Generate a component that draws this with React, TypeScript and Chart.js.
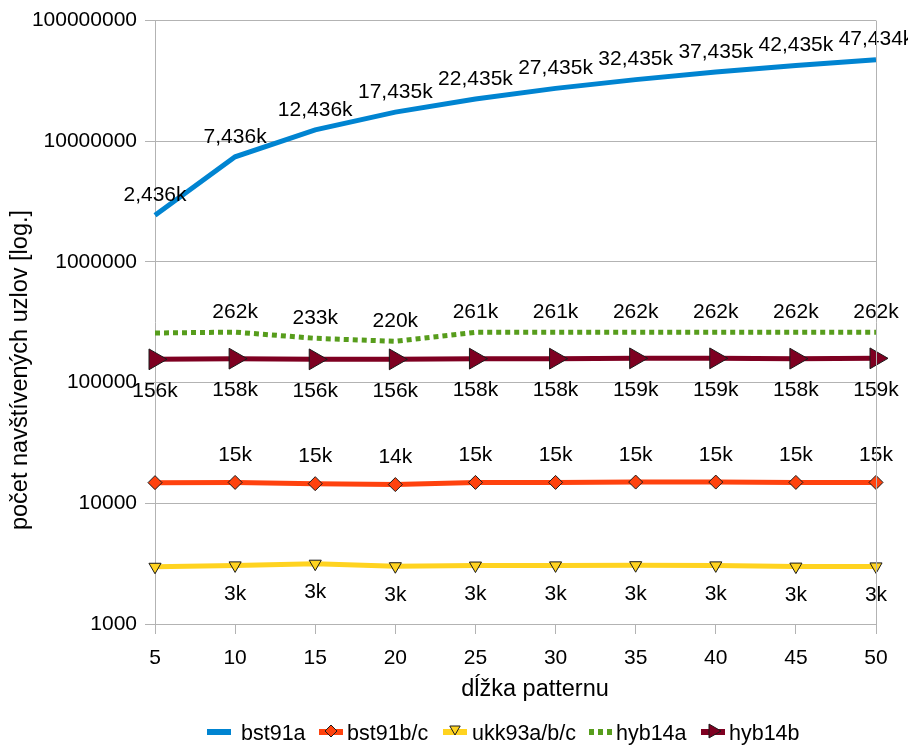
import React, { useEffect, useRef } from "react";
import { Chart, registerables } from "chart.js";

Chart.register(...registerables);

// Pattern lengths on the x axis
const patternLengths = ["5", "10", "15", "20", "25", "30", "35", "40", "45", "50"];

// Visited node counts per algorithm
const bst91a = [2436000, 7436000, 12436000, 17435000, 22435000, 27435000, 32435000, 37435000, 42435000, 47434000];
const bst91bc = [14840, 14900, 14550, 14300, 14900, 14900, 15000, 15000, 14900, 14900];
const ukk93abc = [2980, 3060, 3160, 3010, 3050, 3060, 3070, 3060, 2990, 3000];
const hyb14a = [258000, 262000, 233000, 220000, 261000, 261000, 262000, 262000, 262000, 262000];
const hyb14b = [156000, 158000, 156000, 156000, 158000, 158000, 159000, 159000, 158000, 159000];

const seriesNames = ["bst91a", "bst91b/c", "ukk93a/b/c", "hyb14a", "hyb14b"];

// Decade ticks of the logarithmic y axis
const yTicks = [1000, 10000, 100000, 1000000, 10000000, 100000000];

const xTitle = "dĺžka patternu";
const yTitle = "počet navštívených uzlov [log.]";

const FONT = "'Liberation Sans', Arial, sans-serif";
const GRID = "#b3b3b3";

const colors = ["#0084d1", "#ff420e", "#ffd320", "#579d1c", "#7e0021"];

// value label placement: vertical offset from the point, and indices left unlabelled
const labelStyle = [
  { dy: -20, skip: [] as number[] },
  { dy: -27, skip: [0] },
  { dy: 29, skip: [0] },
  { dy: -20, skip: [0] },
  { dy: 32, skip: [] as number[] },
];

const formatK = (v: number) => Math.round(v / 1000).toLocaleString("en-US") + "k";

const valueLabels = {
  id: "valueLabels",
  afterDatasetsDraw(chart: any) {
    const ctx = chart.ctx;
    ctx.save();
    ctx.font = `21px ${FONT}`;
    ctx.fillStyle = "#000";
    ctx.textAlign = "center";
    ctx.textBaseline = "middle";
    chart.data.datasets.forEach((ds: any, di: number) => {
      const meta = chart.getDatasetMeta(di);
      const st = labelStyle[di];
      meta.data.forEach((pt: any, i: number) => {
        if (st.skip.includes(i)) return;
        ctx.fillText(formatK(ds.data[i]), pt.x, pt.y + st.dy);
      });
    });
    ctx.restore();
  },
};

function drawMarker(ctx: CanvasRenderingContext2D, style: string, r: number, rotDeg: number, x: number, y: number) {
  const rot = (rotDeg * Math.PI) / 180;
  ctx.beginPath();
  if (style === "rectRot") {
    ctx.moveTo(x, y - r);
    ctx.lineTo(x + r, y);
    ctx.lineTo(x, y + r);
    ctx.lineTo(x - r, y);
  } else {
    for (let k = 0; k < 3; k++) {
      const ang = rot + (k * 2 * Math.PI) / 3;
      const px = x + Math.sin(ang) * r;
      const py = y - Math.cos(ang) * r;
      if (k === 0) ctx.moveTo(px, py);
      else ctx.lineTo(px, py);
    }
  }
  ctx.closePath();
  ctx.fill();
  ctx.stroke();
}

// frame line on the right, axis titles and the legend row
const decorations = {
  id: "decorations",
  afterDraw(chart: any) {
    const ctx = chart.ctx;
    const a = chart.chartArea;
    ctx.save();
    ctx.strokeStyle = GRID;
    ctx.lineWidth = 1;
    ctx.beginPath();
    ctx.moveTo(Math.round(a.right) + 0.5, a.top);
    ctx.lineTo(Math.round(a.right) + 0.5, a.bottom);
    ctx.stroke();

    ctx.fillStyle = "#000";
    ctx.font = `23.5px ${FONT}`;
    ctx.textAlign = "center";
    ctx.textBaseline = "middle";
    ctx.fillText(xTitle, 535, 690);

    ctx.save();
    ctx.translate(21, 370);
    ctx.rotate(-Math.PI / 2);
    ctx.fillText(yTitle, 0, 0);
    ctx.restore();

    const legendY = 732;
    const slots = [
      [207, 241],
      [319, 347],
      [443, 472],
      [589, 616],
      [701, 729],
    ];
    const datasets = chart.data.datasets;
    ctx.font = `21.5px ${FONT}`;
    ctx.textAlign = "left";
    slots.forEach(([sx, tx], i) => {
      const ds = datasets[i];
      ctx.save();
      ctx.strokeStyle = ds.borderColor;
      ctx.lineWidth = 6;
      if (ds.borderDash) ctx.setLineDash([5, 4]);
      ctx.beginPath();
      ctx.moveTo(sx, legendY);
      ctx.lineTo(sx + 24, legendY);
      ctx.stroke();
      ctx.restore();
      if (ds.pointRadius > 0) {
        ctx.save();
        ctx.fillStyle = ds.pointBackgroundColor;
        ctx.strokeStyle = ds.pointBorderColor;
        ctx.lineWidth = 1;
        const r = i === 4 ? 8 : 6;
        const py = i === 2 ? legendY - 3 : legendY - 1;
        drawMarker(ctx, ds.pointStyle, r, ds.pointRotation || 0, sx + 12, py);
        ctx.restore();
      }
      ctx.fillStyle = "#000";
      ctx.fillText(seriesNames[i], tx, legendY + 2);
    });
    ctx.restore();
  },
};

export default function App() {
  const ref = useRef<HTMLCanvasElement | null>(null);

  useEffect(() => {
    if (!ref.current) return;
    Chart.defaults.font.family = FONT;
    Chart.defaults.color = "#000";

    const marker = (i: number, style: string, radius: number, rotation: number) => ({
      pointStyle: style,
      pointRadius: radius,
      pointRotation: rotation,
      pointBackgroundColor: colors[i],
      pointBorderColor: "#1a1a1a",
      pointBorderWidth: 1,
    });

    const chart = new Chart(ref.current, {
      type: "line",
      data: {
        labels: patternLengths,
        datasets: [
          {
            label: seriesNames[0],
            data: bst91a,
            borderColor: colors[0],
            backgroundColor: colors[0],
            borderWidth: 5,
            pointRadius: 0,
            clip: false as any,
          },
          {
            label: seriesNames[1],
            data: bst91bc,
            borderColor: colors[1],
            backgroundColor: colors[1],
            borderWidth: 5,
            ...marker(1, "rectRot", 7, 0),
            clip: false as any,
          },
          {
            label: seriesNames[2],
            data: ukk93abc,
            borderColor: colors[2],
            backgroundColor: colors[2],
            borderWidth: 5,
            ...marker(2, "triangle", 7, 180),
            clip: false as any,
          },
          {
            label: seriesNames[3],
            data: hyb14a,
            borderColor: colors[3],
            backgroundColor: colors[3],
            borderWidth: 5,
            borderDash: [5, 4],
            pointRadius: 0,
            clip: false as any,
          },
          {
            label: seriesNames[4],
            data: hyb14b,
            borderColor: colors[4],
            backgroundColor: colors[4],
            borderWidth: 5,
            ...marker(4, "triangle", 12, 90),
            clip: false as any,
          },
        ] as any,
      },
      options: {
        animation: false,
        responsive: false,
        layout: { padding: { left: 0, right: 32, top: 20, bottom: 42 } },
        plugins: {
          legend: { display: false },
          tooltip: { enabled: false },
        },
        scales: {
          x: {
            type: "category",
            offset: false,
            grid: { drawOnChartArea: false, drawTicks: true, tickLength: 10, color: GRID },
            border: { color: GRID },
            ticks: { font: { size: 21 }, color: "#000", padding: 12, maxRotation: 0 },
            afterFit: (s: any) => {
              s.height = 81;
            },
          },
          y: {
            type: "logarithmic",
            min: 1000,
            max: 100000000,
            afterBuildTicks: (s: any) => {
              s.ticks = yTicks.map((v) => ({ value: v }));
            },
            afterFit: (s: any) => {
              s.width = 155;
            },
            grid: { color: GRID, tickLength: 10, drawTicks: true },
            border: { color: GRID },
            ticks: {
              autoSkip: false,
              font: { size: 21 },
              color: "#000",
              padding: 8,
              callback: (v: any) => String(v),
            },
          },
        },
      },
      plugins: [valueLabels, decorations],
    });

    return () => chart.destroy();
  }, []);

  return (
    <div style={{ position: "absolute", left: 0, top: 0, width: 908, height: 747, background: "#fff" }}>
      <canvas ref={ref} width={908} height={747} style={{ display: "block" }} />
    </div>
  );
}
